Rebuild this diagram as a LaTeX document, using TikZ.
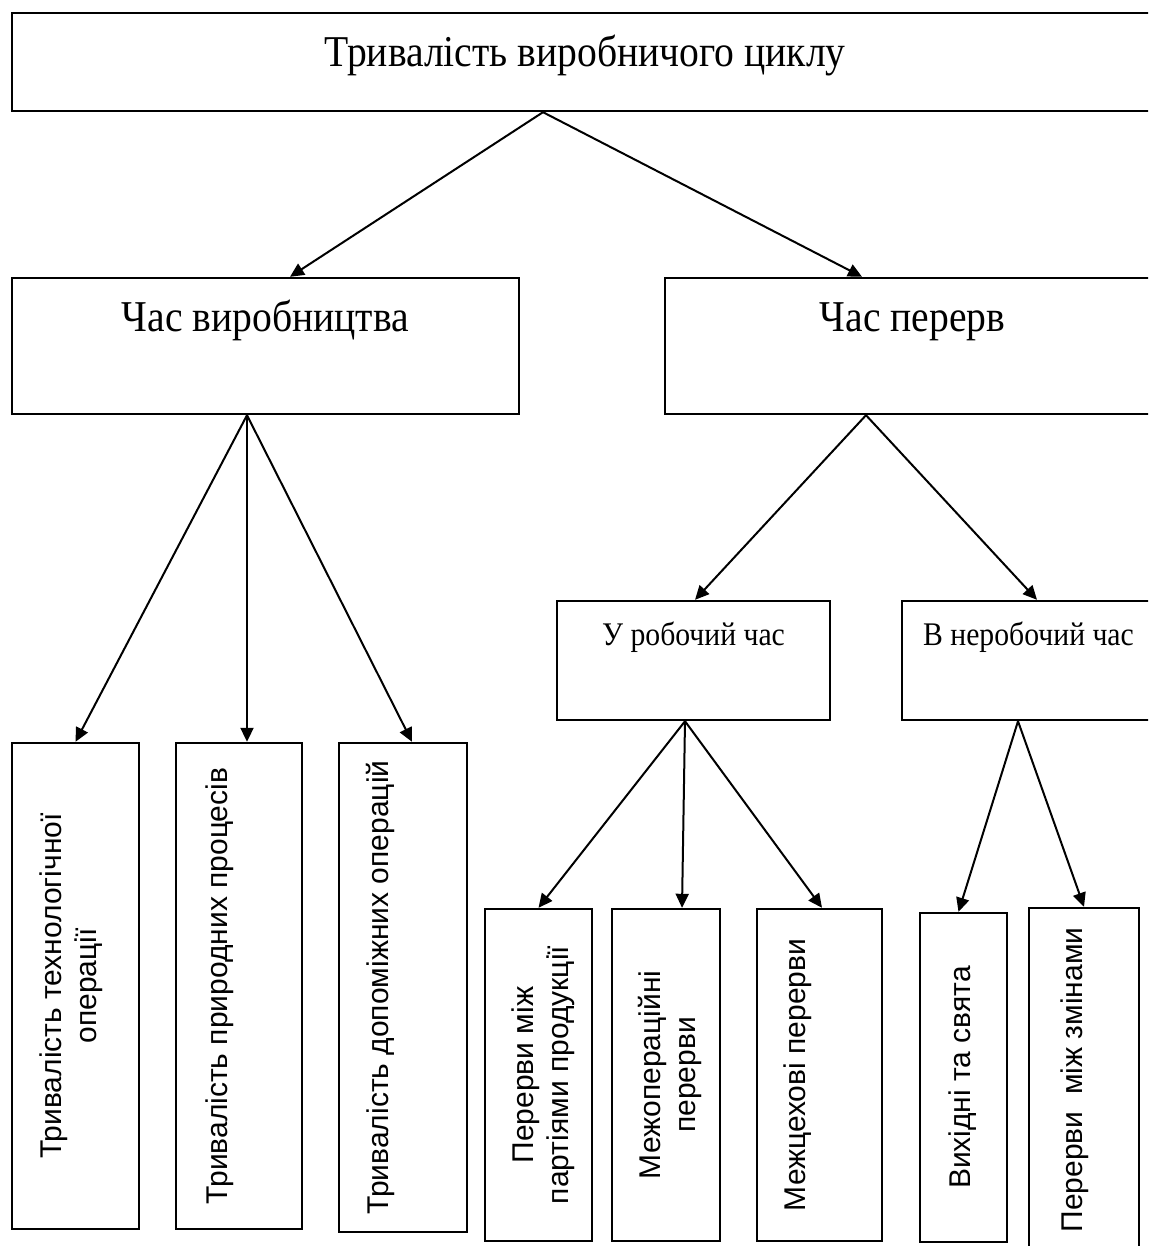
\documentclass[tikz,border=0pt]{standalone}
\usepackage{fontspec}
\setmainfont{Liberation Serif}
\newfontfamily\narrowserif[FakeStretch=0.9]{Liberation Serif}
\newfontfamily\uprightsans{Liberation Sans}
\usetikzlibrary{arrows.meta}

\begin{document}
\begin{tikzpicture}[
  x=1pt, y=-1pt,
  frame/.style={rectangle, draw=black, line width=2.4pt, inner sep=0pt, align=flush center},
  bigbox/.style={frame, anchor=base, font=\narrowserif\fontsize{44}{48}\selectfont},
  midbox/.style={frame, anchor=base, font=\narrowserif\fontsize{33}{36}\selectfont},
  upbox/.style={frame, rotate=90, anchor=center, font=\uprightsans\fontsize{30}{35}\selectfont},
  arrow/.style={-{Triangle[length=14pt,width=13pt]}, line width=2pt}
]
\useasboundingbox (0,0) rectangle (1148,1246);
\clip (0,0) rectangle (1148,1246);

% Верхній рівень
\node[bigbox, text width=1146pt, text height=54pt, text depth=44pt] (cycle) at (585,67) {Тривалість виробничого циклу};

% Другий рівень
\node[bigbox, text width=507pt, text height=53pt, text depth=83pt] (prodtime) at (265.5,331) {Час виробництва};
\node[bigbox, text width=495pt, text height=53pt, text depth=83pt] (breaktime) at (912.5,331) {Час перерв};

\draw[arrow] ([xshift=-42pt]cycle.south) -- ([xshift=24.5pt]prodtime.north);
\draw[arrow] ([xshift=-42pt]cycle.south) -- ([xshift=-50.5pt]breaktime.north);

% Складові часу виробництва
\node[upbox, text width=486pt, text height=49pt, text depth=78pt] (tech) at (75.5,986) {Тривалість технологічної\\операції};
\node[upbox, text width=486pt, text height=51pt, text depth=75pt] (natural) at (239,986) {Тривалість природних процесів};
\node[upbox, text width=489pt, text height=49pt, text depth=79pt] (aux) at (403,987.5) {Тривалість допоміжних операцій};

\draw[arrow] ([xshift=-18.5pt]prodtime.south) -- (tech.east);
\draw[arrow] ([xshift=-18.5pt]prodtime.south) -- ([xshift=8pt]natural.east);
\draw[arrow] ([xshift=-18.5pt]prodtime.south) -- ([xshift=9pt]aux.east);

% Складові часу перерв
\node[midbox, text width=273pt, text height=44pt, text depth=75pt] (workhrs) at (693.5,645) {У робочий час};
\node[midbox, text width=253pt, text height=44pt, text depth=75pt] (offhrs) at (1028.5,645) {В неробочий час};

\draw[arrow] ([xshift=-46.5pt]breaktime.south) -- ([xshift=1.5pt]workhrs.north);
\draw[arrow] ([xshift=-46.5pt]breaktime.south) -- ([xshift=8.5pt]offhrs.north);

\node[upbox, text width=332pt, text height=48pt, text depth=59pt] (batch) at (538.5,1075) {Перерви між\\партіями продукції};
\node[upbox, text width=332pt, text height=48pt, text depth=60pt] (interop) at (666,1075) {Межопераційні\\перерви};
\node[upbox, text width=332pt, text height=48pt, text depth=77pt] (intershop) at (819.5,1075) {Межцехові перерви};

\draw[arrow] ([xshift=-8.5pt]workhrs.south) -- (batch.east);
\draw[arrow] ([xshift=-8.5pt]workhrs.south) -- ([xshift=16pt]interop.east);
\draw[arrow] ([xshift=-8.5pt]workhrs.south) -- ([xshift=2.5pt]intershop.east);

\node[upbox, text width=329pt, text height=50pt, text depth=37pt] (holidays) at (963.5,1077.5) {Вихідні та свята};
\node[upbox, text width=344pt, text height=53pt, text depth=57pt] (shifts) at (1084,1080) {Перерви\ \ між змінами};

\draw[arrow] ([xshift=-10.5pt]offhrs.south) -- ([xshift=-5pt]holidays.east);
\draw[arrow] ([xshift=-10.5pt]offhrs.south) -- (shifts.east);
\end{tikzpicture}
\end{document}
